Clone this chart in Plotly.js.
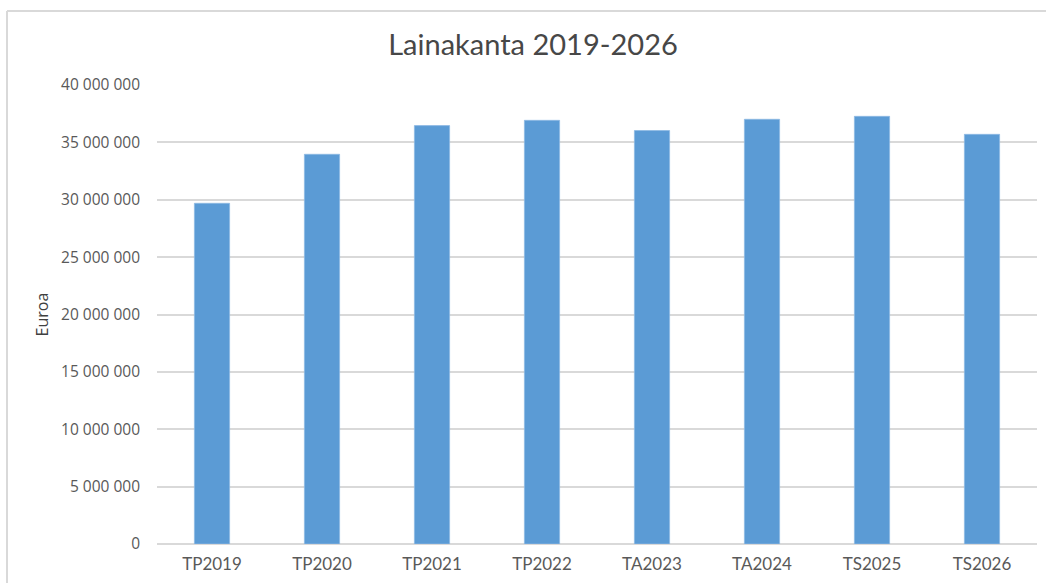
<!DOCTYPE html>
<html>
<head>
<meta charset="utf-8">
<script src="https://cdn.plot.ly/plotly-3.0.1.min.js"></script>
<style>
  html, body { margin: 0; padding: 0; background: #ffffff; }
  #chart { width: 1046px; height: 583px; }
</style>
</head>
<body>
<div id="chart"></div>
<script>
const categories = ["TP2019", "TP2020", "TP2021", "TP2022", "TA2023", "TA2024", "TS2025", "TS2026"];
const lainakanta = [29690000, 33960000, 36460000, 36920000, 36030000, 37010000, 37270000, 35700000];
const tickValues = [0, 5000000, 10000000, 15000000, 20000000, 25000000, 30000000, 35000000, 40000000];
const tickLabels = ["0", "5 000 000", "10 000 000", "15 000 000", "20 000 000", "25 000 000", "30 000 000", "35 000 000", "40 000 000"];

const W = 1046, H = 583;
const mL = 157, mR = 9, mT = 85, mB = 39;
const pw = W - mL - mR, ph = H - mT - mB;
const px = v => (v - mL) / pw;
const py = v => (H - mB - v) / ph;

const trace = {
  type: "bar",
  x: categories,
  y: lainakanta,
  marker: { color: "#5B9BD5", line: { color: "#8DB9E3", width: 0.8 } },
  hoverinfo: "x+y"
};

const layout = {
  width: W, height: H,
  margin: { l: mL, r: mR, t: mT, b: mB },
  paper_bgcolor: "#ffffff",
  plot_bgcolor: "#ffffff",
  bargap: 0.68,
  showlegend: false,
  title: {
    text: "Lainakanta 2019-2026",
    font: { family: "Lato, 'Open Sans', sans-serif", size: 29, color: "#474747" },
    xref: "container", x: 533 / W, xanchor: "center",
    yref: "container", y: 1 - 45 / H, yanchor: "middle"
  },
  xaxis: {
    type: "category",
    tickfont: { family: "Lato, 'Open Sans', sans-serif", size: 17, color: "#595959" },
    showgrid: false,
    showline: false,
    ticks: "",
    ticklabelstandoff: 8,
    fixedrange: true
  },
  yaxis: {
    range: [0, 40000000],
    tickmode: "array",
    tickvals: tickValues,
    ticktext: tickLabels,
    tickfont: { family: "'Open Sans', sans-serif", size: 15.5, color: "#595959" },
    showgrid: true,
    gridcolor: "#D9D9D9",
    gridwidth: 1.6,
    zeroline: true,
    zerolinecolor: "#D9D9D9",
    zerolinewidth: 1.6,
    showline: false,
    ticks: "",
    ticklabelstandoff: 16,
    automargin: false,
    title: {
      text: "Euroa",
      font: { family: "'Open Sans', sans-serif", size: 16, color: "#404040" },
      standoff: 8
    },
    fixedrange: true
  },
  shapes: [
    { type: "line", xref: "paper", yref: "paper", x0: px(7), x1: px(7), y0: py(11), y1: py(H + 20), line: { color: "#D9D9D9", width: 2 }, layer: "below" },
    { type: "line", xref: "paper", yref: "paper", x0: px(7), x1: px(W + 20), y0: py(11), y1: py(11), line: { color: "#D9D9D9", width: 2 }, layer: "below" }
  ]
};

Plotly.newPlot("chart", [trace], layout, { displayModeBar: false, responsive: false, staticPlot: false });
</script>
</body>
</html>
